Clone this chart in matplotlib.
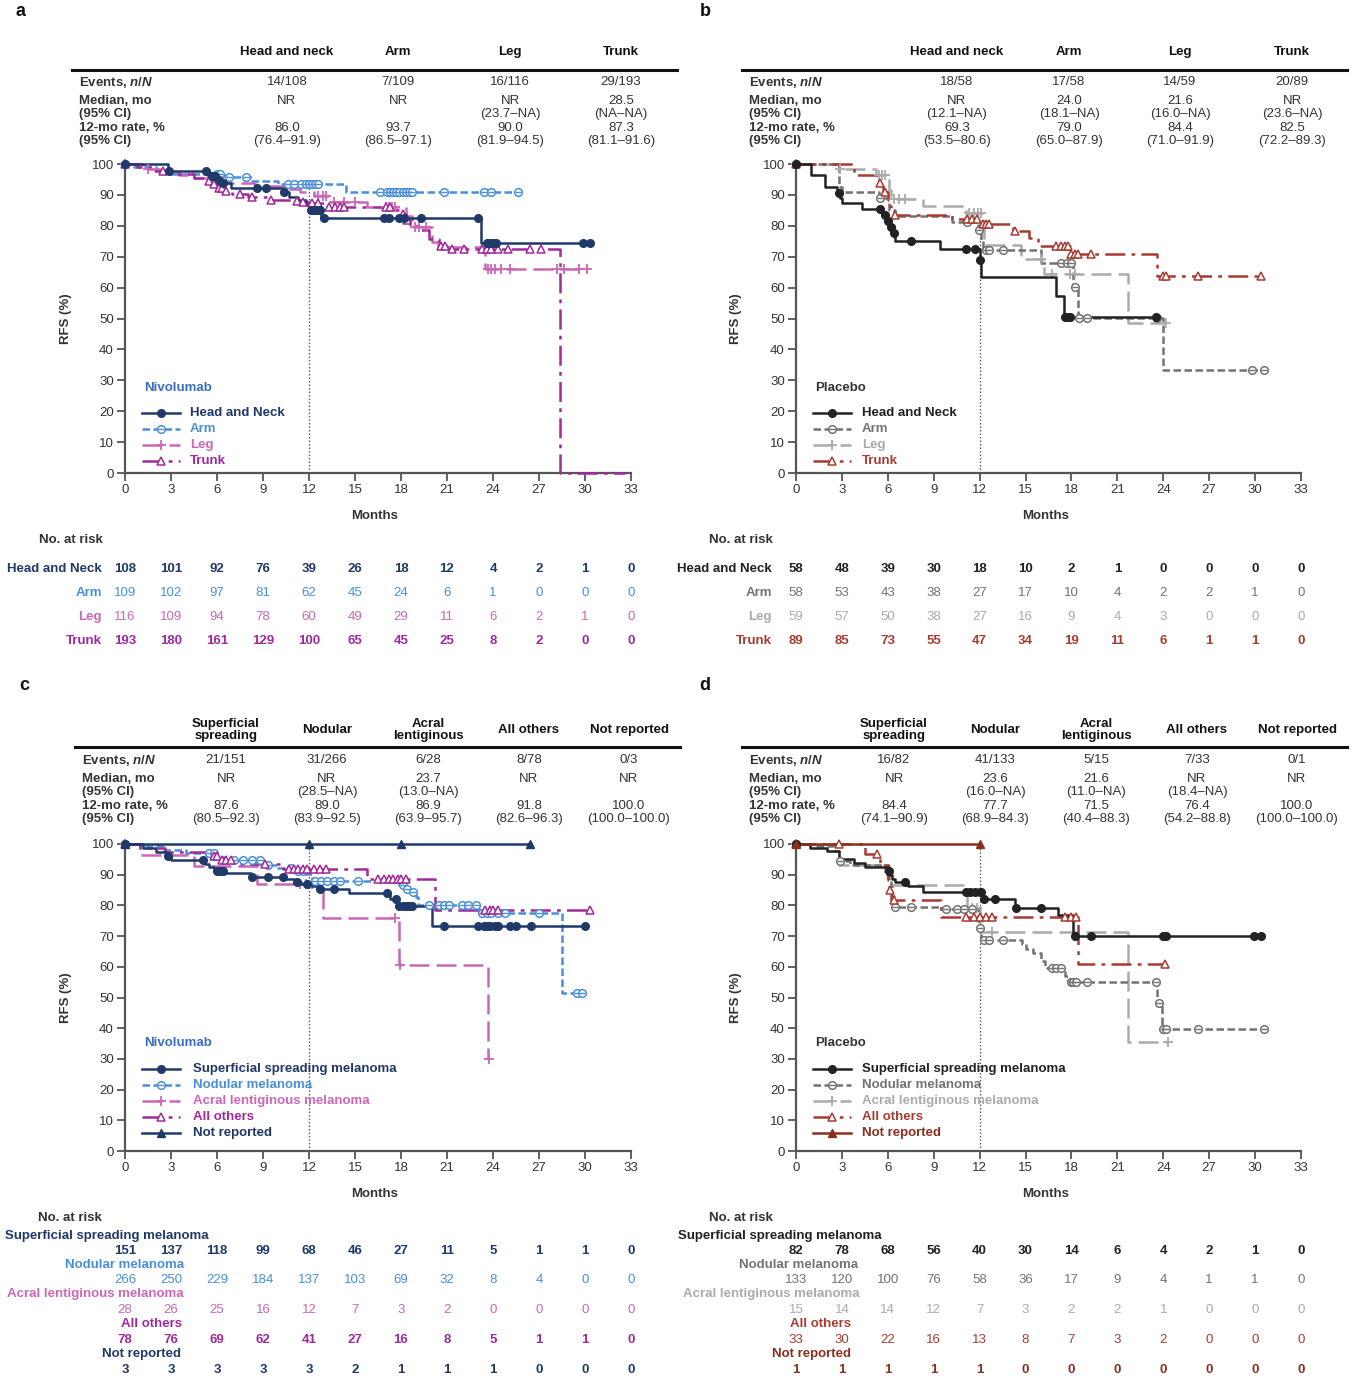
import matplotlib
matplotlib.use('Agg')
import matplotlib.pyplot as plt
from matplotlib.transforms import blended_transform_factory
import numpy as np

plt.rcParams['font.family'] = ['Liberation Sans', 'DejaVu Sans']
plt.rcParams['mathtext.fontset'] = 'custom'
plt.rcParams['mathtext.it'] = 'Liberation Sans:italic:bold'
plt.rcParams['mathtext.rm'] = 'Liberation Sans:bold'

# ---- colours
NAVY = '#1F3A68'
LBLUE = '#4A8FD8'
PINK = '#CC66B8'
PURPLE = '#A02A9A'
BLACK = '#222222'
GREY = '#737373'
LGREY = '#ABABAB'
RED = '#A83B32'
DRED = '#8C2F1E'
TXT = '#333333'

# ---- panel a : nivolumab by primary site (event times, RFS after event, censor times)
a_hn_t = [2.8, 5.4, 6.0, 6.3, 6.9, 10.3, 10.7, 11.3, 11.8, 12.0, 12.8, 23.2]
a_hn_s = [97.8, 96.0, 94.9, 93.7, 92.1, 91.0, 89.4, 88.2, 86.8, 85.1, 82.4, 74.3]
a_hn_c = [2.9, 5.3, 5.7, 5.9, 6.1, 6.4, 8.6, 9.2, 10.4, 12.1, 12.2, 12.3, 12.5, 12.7, 13.0,
          16.9, 17.2, 17.9, 18.2, 19.3, 23.0, 23.6, 23.8, 24.0, 24.2, 29.9, 30.3]
a_arm_t = [0.6, 2.0, 2.6, 6.5, 8.3, 10.0, 14.4]
a_arm_s = [99.1, 98.1, 96.9, 95.8, 94.6, 93.5, 91.0]
a_arm_c = [6.0, 6.2, 6.8, 7.9, 10.6, 11.0, 11.5, 11.8, 12.0, 12.2, 12.4, 12.6, 16.6, 17.1, 17.3,
           17.5, 17.7, 17.9, 18.1, 18.3, 18.5, 18.7, 20.8, 23.4, 23.9, 25.6]
a_leg_t = [1.2, 2.3, 3.5, 4.5, 5.4, 6.3, 8.5, 10.5, 11.4, 12.3, 13.3, 15.8, 18.3, 18.7, 20.0, 20.4, 23.5]
a_leg_s = [98.3, 97.4, 96.5, 95.6, 94.7, 93.8, 92.9, 91.9, 90.8, 89.6, 87.8, 86.2, 83.2, 79.5, 74.8, 73.2, 66.0]
a_leg_c = [1.5, 12.6, 12.9, 13.1, 13.6, 14.3, 15.0, 17.0, 17.2, 17.4, 17.6, 18.9, 19.2, 19.6,
           23.7, 23.9, 24.1, 24.5, 25.1, 28.2, 28.6, 29.6, 30.1]
a_trunk_t = [0.8, 1.6, 3.0, 4.5, 5.3, 5.7, 6.0, 6.4, 7.0, 8.0, 9.4, 10.8, 11.5, 12.0, 13.0,
             17.5, 18.0, 18.3, 18.6, 19.2, 19.8, 20.5, 21.0, 28.4]
a_trunk_s = [98.9, 97.8, 96.7, 95.6, 94.5, 93.4, 92.3, 91.2, 90.4, 89.4, 88.5, 88.0, 87.6, 87.3, 86.0,
             85.2, 83.8, 81.9, 80.0, 78.5, 75.8, 73.5, 72.5, 0.0]
a_trunk_c = [2.5, 5.5, 5.8, 6.1, 6.3, 6.6, 7.5, 8.3, 9.5, 11.2, 11.6, 12.2, 12.6, 13.3, 13.7, 14.0,
             14.3, 17.0, 17.3, 18.1, 18.4, 20.6, 20.9, 21.3, 22.1, 23.3, 23.6, 23.9, 24.3, 25.0, 26.4, 27.1]
a_trunk_end = 32.6

# ---- panel b : placebo by primary site
b_hn_t = [1.0, 1.9, 2.7, 2.9, 3.0, 4.3, 5.6, 5.9, 6.1, 6.3, 6.5, 9.4, 12.0, 12.1, 17.0, 17.5]
b_hn_s = [96.6, 92.5, 90.7, 88.9, 87.3, 85.3, 83.5, 81.7, 79.7, 77.7, 75.0, 72.5, 69.0, 63.3, 57.2, 50.6]
b_hn_c = [2.8, 5.5, 5.8, 6.0, 6.2, 6.4, 7.5, 11.1, 11.7, 12.05, 17.6, 17.8, 17.9, 23.5]
b_arm_t = [2.8, 3.0, 5.4, 6.1, 6.5, 10.2, 11.9, 12.1, 12.2, 16.0, 18.1, 18.4, 24.0]
b_arm_s = [92.4, 91.1, 88.9, 85.0, 83.3, 81.3, 78.6, 75.4, 72.1, 67.8, 60.3, 50.1, 33.4]
b_arm_c = [5.5, 11.2, 11.95, 12.4, 12.6, 13.5, 17.3, 17.7, 18.0, 18.2, 18.5, 19.0, 23.6, 29.8, 30.6]
b_leg_t = [2.8, 5.2, 6.1, 6.2, 8.3, 11.1, 12.2, 12.3, 14.7, 16.2, 21.7]
b_leg_s = [98.3, 96.6, 91.6, 88.6, 86.4, 84.0, 79.0, 73.8, 69.2, 64.4, 48.4]
b_leg_c = [2.9, 5.4, 5.6, 5.8, 6.4, 6.7, 7.1, 11.3, 11.6, 11.9, 12.1, 16.0, 16.7, 17.9, 18.2, 24.2]
b_trunk_t = [3.8, 5.4, 5.7, 6.0, 6.1, 6.2, 6.4, 10.2, 12.1, 14.2, 15.2, 15.8, 17.9, 23.6]
b_trunk_s = [96.4, 93.7, 91.0, 88.5, 86.5, 84.8, 83.5, 82.2, 80.6, 78.2, 75.9, 73.6, 70.8, 63.7]
b_trunk_c = [5.5, 5.8, 6.5, 11.2, 11.5, 11.8, 12.2, 12.4, 12.6, 14.3, 17.0, 17.3, 17.6, 17.8,
             18.0, 18.2, 18.4, 19.3, 24.0, 24.2, 26.3, 30.4]

# ---- panel c : nivolumab by subtype
c_ssm_t = [1.2, 2.0, 2.7, 3.0, 5.2, 5.5, 5.8, 6.5, 8.2, 10.5, 11.0, 11.5, 12.2, 12.6, 14.6, 17.3, 17.8, 20.0]
c_ssm_s = [98.7, 97.4, 96.0, 94.9, 93.6, 92.5, 91.3, 90.5, 89.3, 88.6, 87.7, 87.0, 86.2, 85.4, 84.0, 82.2, 79.7, 73.4]
c_ssm_c = [2.8, 5.1, 6.0, 6.2, 6.4, 8.3, 9.3, 10.3, 11.2, 11.9, 12.7, 13.6, 17.1, 17.7, 17.9, 18.1,
           18.3, 18.5, 18.7, 20.8, 23.0, 23.4, 23.6, 23.8, 24.1, 24.3, 25.1, 25.5, 26.5, 30.0]
c_nod_t = [1.2, 2.5, 4.0, 6.0, 6.5, 9.0, 10.0, 11.0, 11.8, 12.2, 17.9, 18.3, 18.6, 19.0, 19.1, 23.1, 28.5]
c_nod_s = [99.2, 98.1, 97.2, 95.9, 94.7, 93.2, 92.2, 91.2, 90.2, 88.0, 86.6, 85.5, 84.5, 82.6, 80.1, 77.6, 51.6]
c_nod_c = [5.5, 5.8, 7.1, 7.7, 8.3, 8.8, 9.3, 10.8, 11.3, 11.6, 12.4, 12.8, 13.2, 13.6, 14.0, 15.2,
           18.1, 18.4, 18.8, 19.8, 20.5, 20.8, 21.1, 22.0, 22.4, 22.9, 23.3, 23.6, 23.9, 24.3, 24.8,
           27.0, 29.5, 29.8]
c_acr_t = [1.0, 4.5, 8.6, 12.9, 17.9, 23.7]
c_acr_s = [96.4, 92.9, 86.9, 75.8, 60.5, 30.1]
c_acr_c = [11.4, 11.8, 12.2, 12.6, 17.6, 17.95, 23.75]
c_oth_t = [1.0, 2.6, 5.6, 6.2, 7.5, 10.3, 15.8, 20.2]
c_oth_s = [98.7, 97.4, 96.1, 94.8, 93.5, 91.8, 88.6, 78.5]
c_oth_c = [5.8, 6.0, 6.3, 6.6, 6.9, 9.1, 10.7, 11.0, 11.3, 11.6, 11.9, 12.3, 12.7, 13.1, 16.5, 16.9,
           17.2, 17.5, 17.8, 18.0, 18.3, 23.5, 23.8, 24.0, 24.3, 30.3]
c_nr_t = []
c_nr_s = []
c_nr_c = [12.0, 18.0, 26.4]

# ---- panel d : placebo by subtype
d_ssm_t = [0.9, 2.0, 2.8, 3.8, 4.5, 6.0, 6.1, 6.3, 6.5, 7.3, 8.3, 12.2, 14.3, 17.1, 18.1]
d_ssm_s = [98.7, 97.6, 95.0, 93.7, 92.4, 91.2, 89.9, 88.7, 87.5, 86.2, 84.5, 82.1, 79.3, 76.8, 70.1]
d_ssm_c = [6.05, 7.1, 11.1, 11.4, 11.7, 12.0, 12.1, 12.3, 13.0, 14.35, 16.0, 18.2, 19.3, 24.0, 24.2, 29.9, 30.4]
d_nod_t = [1.2, 2.5, 2.8, 3.5, 5.8, 6.0, 6.2, 6.3, 6.4, 9.4, 11.9, 12.0, 12.1, 14.8, 15.0, 15.5,
           16.0, 16.3, 17.6, 17.8, 17.9, 23.6, 23.9]
d_nod_s = [99.2, 97.6, 94.6, 93.0, 90.0, 88.4, 85.9, 83.2, 79.6, 78.8, 75.0, 72.8, 68.7, 67.4, 65.8, 64.5,
           62.0, 59.5, 57.1, 55.4, 54.9, 48.2, 39.9]
d_nod_c = [2.85, 6.5, 7.5, 9.8, 10.5, 11.0, 11.5, 12.05, 12.3, 12.6, 13.5, 16.7, 17.0, 17.3, 17.95,
           18.1, 18.3, 19.0, 23.5, 23.7, 24.0, 24.2, 26.3, 30.6]
d_acr_t = [2.8, 6.1, 11.2, 12.0, 21.7]
d_acr_s = [93.3, 86.6, 79.3, 71.4, 35.5]
d_acr_c = [11.5, 11.8, 12.8, 24.3]
d_oth_t = [4.5, 5.5, 6.0, 6.1, 6.2, 9.5, 18.4]
d_oth_s = [96.7, 93.2, 88.6, 85.0, 81.7, 76.1, 60.9]
d_oth_c = [2.8, 5.3, 6.15, 6.4, 11.1, 11.6, 12.0, 12.4, 12.8, 17.6, 18.0, 18.3, 24.1]
d_nr_t = []
d_nr_s = []
d_nr_c = [12.0]

# ---- summary tables
site_cols = ['Head and neck', 'Arm', 'Leg', 'Trunk']
a_events = ['14/108', '7/109', '16/116', '29/193']
a_median = ['NR', 'NR', 'NR', '28.5']
a_median_ci = ['', '', '(23.7–NA)', '(NA–NA)']
a_rate = ['86.0', '93.7', '90.0', '87.3']
a_rate_ci = ['(76.4–91.9)', '(86.5–97.1)', '(81.9–94.5)', '(81.1–91.6)']
b_events = ['18/58', '17/58', '14/59', '20/89']
b_median = ['NR', '24.0', '21.6', 'NR']
b_median_ci = ['(12.1–NA)', '(18.1–NA)', '(16.0–NA)', '(23.6–NA)']
b_rate = ['69.3', '79.0', '84.4', '82.5']
b_rate_ci = ['(53.5–80.6)', '(65.0–87.9)', '(71.0–91.9)', '(72.2–89.3)']
sub_cols = ['Superficial\nspreading', 'Nodular', 'Acral\nlentiginous', 'All others', 'Not reported']
c_events = ['21/151', '31/266', '6/28', '8/78', '0/3']
c_median = ['NR', 'NR', '23.7', 'NR', 'NR']
c_median_ci = ['', '(28.5–NA)', '(13.0–NA)', '', '']
c_rate = ['87.6', '89.0', '86.9', '91.8', '100.0']
c_rate_ci = ['(80.5–92.3)', '(83.9–92.5)', '(63.9–95.7)', '(82.6–96.3)', '(100.0–100.0)']
d_events = ['16/82', '41/133', '5/15', '7/33', '0/1']
d_median = ['NR', '23.6', '21.6', 'NR', 'NR']
d_median_ci = ['', '(16.0–NA)', '(11.0–NA)', '(18.4–NA)', '']
d_rate = ['84.4', '77.7', '71.5', '76.4', '100.0']
d_rate_ci = ['(74.1–90.9)', '(68.9–84.3)', '(40.4–88.3)', '(54.2–88.8)', '(100.0–100.0)']

# ---- numbers at risk
risk_months = [0, 3, 6, 9, 12, 15, 18, 21, 24, 27, 30, 33]
a_risk_hn = [108, 101, 92, 76, 39, 26, 18, 12, 4, 2, 1, 0]
a_risk_arm = [109, 102, 97, 81, 62, 45, 24, 6, 1, 0, 0, 0]
a_risk_leg = [116, 109, 94, 78, 60, 49, 29, 11, 6, 2, 1, 0]
a_risk_trunk = [193, 180, 161, 129, 100, 65, 45, 25, 8, 2, 0, 0]
b_risk_hn = [58, 48, 39, 30, 18, 10, 2, 1, 0, 0, 0, 0]
b_risk_arm = [58, 53, 43, 38, 27, 17, 10, 4, 2, 2, 1, 0]
b_risk_leg = [59, 57, 50, 38, 27, 16, 9, 4, 3, 0, 0, 0]
b_risk_trunk = [89, 85, 73, 55, 47, 34, 19, 11, 6, 1, 1, 0]
c_risk_ssm = [151, 137, 118, 99, 68, 46, 27, 11, 5, 1, 1, 0]
c_risk_nod = [266, 250, 229, 184, 137, 103, 69, 32, 8, 4, 0, 0]
c_risk_acr = [28, 26, 25, 16, 12, 7, 3, 2, 0, 0, 0, 0]
c_risk_oth = [78, 76, 69, 62, 41, 27, 16, 8, 5, 1, 1, 0]
c_risk_nr = [3, 3, 3, 3, 3, 2, 1, 1, 1, 0, 0, 0]
d_risk_ssm = [82, 78, 68, 56, 40, 30, 14, 6, 4, 2, 1, 0]
d_risk_nod = [133, 120, 100, 76, 58, 36, 17, 9, 4, 1, 1, 0]
d_risk_acr = [15, 14, 14, 12, 7, 3, 2, 2, 1, 0, 0, 0]
d_risk_oth = [33, 30, 22, 16, 13, 8, 7, 3, 2, 0, 0, 0]
d_risk_nr = [1, 1, 1, 1, 1, 0, 0, 0, 0, 0, 0, 0]

# ---- figure (pixel based layout)
W, H = 1365, 1382
fig = plt.figure(figsize=(W / 100, H / 100), dpi=100)


def fx(px):
    return px / W


def fy(py):
    return 1 - py / H


def ftext(x, y, s, **kw):
    kw.setdefault('va', 'center')
    kw.setdefault('color', TXT)
    fig.text(fx(x), fy(y), s, **kw)


STY = {
    'hn': dict(ls='-', marker='o', fill=True),
    'arm': dict(ls=(0, (3.0, 1.4)), marker='o', fill=False),
    'leg': dict(ls=(0, (8, 2.8)), marker='+', fill=True),
    'trunk': dict(ls=(0, (8, 2.5, 1.5, 2.5)), marker='^', fill=False),
    'nr': dict(ls='-', marker='^', fill=True),
}


def surv_at(t, s, times):
    out = []
    for c in times:
        i = np.searchsorted(t, c, side='right')
        out.append(100.0 if i == 0 else s[i - 1])
    return out


def draw_marks(ax, x, y, color, kind, z, **kw):
    st = STY[kind]
    if kind == 'leg':
        ax.plot(x, y, ls='none', marker='+', ms=7, mew=1.3, color=color, zorder=z + 0.5, clip_on=False, **kw)
    elif st['fill']:
        ax.plot(x, y, ls='none', marker=st['marker'], ms=5.5, color=color, mec=color, zorder=z + 0.5,
                clip_on=False, **kw)
    else:
        ax.plot(x, y, ls='none', marker=st['marker'], ms=5.5, mfc='white', mec=color, mew=1.1,
                zorder=z + 0.5, clip_on=False, **kw)
        if kind == 'arm':
            ax.plot(x, y, ls='none', marker='_', ms=4.5, mew=1.0, color=color, zorder=z + 0.6,
                    clip_on=False, **kw)


def km(ax, t, s, cens, color, kind, z, end=None):
    if end is None:
        end = max(list(t) + list(cens))
    xs = [0] + list(t) + [end]
    ys = [100] + list(s) + [s[-1] if len(s) else 100]
    ax.step(xs, ys, where='post', color=color, lw=1.8, ls=STY[kind]['ls'], zorder=z, clip_on=False)
    draw_marks(ax, [0] + list(cens), [100] + surv_at(t, s, cens), color, kind, z)


def make_ax(left, right, top, bottom):
    ax = fig.add_axes([fx(left), fy(bottom), fx(right - left), (bottom - top) / H])
    ax.set_xlim(0, 33)
    ax.set_ylim(0, 100)
    ax.set_xticks(risk_months)
    ax.set_yticks(range(0, 101, 10))
    for sp in ['top', 'right']:
        ax.spines[sp].set_visible(False)
    for sp in ['left', 'bottom']:
        ax.spines[sp].set_color('#555555')
        ax.spines[sp].set_linewidth(1.6)
    ax.tick_params(length=6, width=1.3, color='#555555', labelsize=9.5, labelcolor=TXT, pad=2)
    ax.patch.set_alpha(0)
    return ax


def legend(ax, title, tcolor, items, ytitle, ys, xt):
    tr = ax.transAxes
    ax.text(0.038, ytitle, title, transform=tr, fontsize=9.5, fontweight='bold', color=tcolor, va='center')
    for (lab, col, kind), y in zip(items, ys):
        ax.plot([0.034, 0.108], [y, y], transform=tr, color=col, lw=1.8, ls=STY[kind]['ls'], clip_on=False)
        draw_marks(ax, [0.071], [y], col, kind, 5, transform=tr)
        ax.text(xt, y, lab, transform=tr, fontsize=9.5, fontweight='bold', color=col, va='center')


def summary_table(cols, colx, rows, x0, x1, yhead, yline, ylab):
    for c, x in zip(cols, colx):
        ftext(x, yhead, c, ha='center', fontsize=9.5, fontweight='bold', color='#111111', linespacing=0.95)
    fig.add_artist(plt.Line2D([fx(x0), fx(x1)], [fy(yline), fy(yline)], color='#111111', lw=2.2))
    labs = ['Events, $\\mathit{n/N}$', 'Median, mo', '(95% CI)', '12-mo rate, %', '(95% CI)']
    for lab, y in zip(labs, ylab):
        ftext(x0 + 7, y, lab, ha='left', fontsize=9.5, fontweight='bold')
    for vals, y in zip(rows, ylab):
        for v, x in zip(vals, colx):
            ftext(x, y, v, ha='center', fontsize=9.5, color=TXT)


def risk_rows(ax, rows, ynum, label_pos):
    tr = blended_transform_factory(ax.transData, fig.transFigure)
    for (lab, col, vals, bold), yn, (lx, ly, ha) in zip(rows, ynum, label_pos):
        ftext(lx, ly, lab, ha=ha, fontsize=9.5, fontweight='bold', color=col)
        for m, v in zip(risk_months, vals):
            ax.text(m, fy(yn), str(v), transform=tr, ha='center', va='center', fontsize=9.5,
                    fontweight='bold' if bold else 'normal', color=col)


def decorate(ax, left, right, top, bottom, ymonths, xrfs):
    ftext(xrfs, (top + bottom) / 2, 'RFS (%)', ha='center', rotation=90, fontsize=9.5, fontweight='bold')
    ftext((left + right) / 2 - 3, ymonths, 'Months', ha='center', fontsize=9.5, fontweight='bold')


def landmark(ax, series):
    top = max(surv_at(t, s, [12.0])[0] for t, s in series)
    ax.plot([12, 12], [0, top], ls=(0, (1.2, 1.6)), color='#555555', lw=0.9, zorder=1)


# ================= panel a
PA = (125, 631, 164, 473)
ax = make_ax(*PA)
km(ax, a_arm_t, a_arm_s, a_arm_c, LBLUE, 'arm', 3)
km(ax, a_leg_t, a_leg_s, a_leg_c, PINK, 'leg', 3.2)
km(ax, a_trunk_t, a_trunk_s, a_trunk_c, PURPLE, 'trunk', 3.4, end=a_trunk_end)
km(ax, a_hn_t, a_hn_s, a_hn_c, NAVY, 'hn', 3.6)
landmark(ax, [(a_hn_t, a_hn_s), (a_arm_t, a_arm_s), (a_leg_t, a_leg_s), (a_trunk_t, a_trunk_s)])
legend(ax, 'Nivolumab', '#3A6EC0',
       [('Head and Neck', NAVY, 'hn'), ('Arm', LBLUE, 'arm'), ('Leg', PINK, 'leg'), ('Trunk', PURPLE, 'trunk')],
       0.275, [0.194, 0.142, 0.091, 0.039], 0.128)
decorate(ax, *PA, 516, 66)
summary_table(site_cols, [287, 398, 510, 621], [a_events, a_median, a_median_ci, a_rate, a_rate_ci],
              72, 677, 52, 70, [82, 101, 114, 128, 141])
ftext(39, 540, 'No. at risk', ha='left', fontsize=9.5, fontweight='bold')
risk_rows(ax, [('Head and Neck', NAVY, a_risk_hn, True), ('Arm', LBLUE, a_risk_arm, False),
               ('Leg', PINK, a_risk_leg, False), ('Trunk', PURPLE, a_risk_trunk, True)],
          [569, 593, 617, 641], [(102, 569, 'right'), (102, 593, 'right'), (102, 617, 'right'), (102, 641, 'right')])
ftext(20, 12, 'a', ha='center', fontsize=13, fontweight='bold', color='#111111')

# ================= panel b
PB = (796, 1301, 164, 473)
ax = make_ax(*PB)
km(ax, b_leg_t, b_leg_s, b_leg_c, LGREY, 'leg', 3)
km(ax, b_arm_t, b_arm_s, b_arm_c, GREY, 'arm', 3.2)
km(ax, b_trunk_t, b_trunk_s, b_trunk_c, RED, 'trunk', 3.4)
km(ax, b_hn_t, b_hn_s, b_hn_c, BLACK, 'hn', 3.6)
landmark(ax, [(b_hn_t, b_hn_s), (b_arm_t, b_arm_s), (b_leg_t, b_leg_s), (b_trunk_t, b_trunk_s)])
legend(ax, 'Placebo', TXT,
       [('Head and Neck', BLACK, 'hn'), ('Arm', GREY, 'arm'), ('Leg', LGREY, 'leg'), ('Trunk', RED, 'trunk')],
       0.275, [0.194, 0.142, 0.091, 0.039], 0.131)
decorate(ax, *PB, 516, 736)
summary_table(site_cols, [957, 1069, 1180, 1292], [b_events, b_median, b_median_ci, b_rate, b_rate_ci],
              742, 1347, 52, 70, [82, 101, 114, 128, 141])
ftext(709, 540, 'No. at risk', ha='left', fontsize=9.5, fontweight='bold')
risk_rows(ax, [('Head and Neck', BLACK, b_risk_hn, True), ('Arm', GREY, b_risk_arm, False),
               ('Leg', LGREY, b_risk_leg, False), ('Trunk', RED, b_risk_trunk, True)],
          [569, 593, 617, 641], [(772, 569, 'right'), (772, 593, 'right'), (772, 617, 'right'), (772, 641, 'right')])
ftext(705, 12, 'b', ha='center', fontsize=13, fontweight='bold', color='#111111')

# ================= panel c
PC = (125, 631, 844, 1151)
ax = make_ax(*PC)
km(ax, c_acr_t, c_acr_s, c_acr_c, PINK, 'leg', 3)
km(ax, c_nod_t, c_nod_s, c_nod_c, LBLUE, 'arm', 3.2)
km(ax, c_oth_t, c_oth_s, c_oth_c, PURPLE, 'trunk', 3.4)
km(ax, c_ssm_t, c_ssm_s, c_ssm_c, NAVY, 'hn', 3.6)
km(ax, c_nr_t, c_nr_s, c_nr_c, NAVY, 'nr', 3.8)
landmark(ax, [(c_ssm_t, c_ssm_s), (c_nod_t, c_nod_s), (c_acr_t, c_acr_s), (c_oth_t, c_oth_s), (c_nr_t, c_nr_s)])
legend(ax, 'Nivolumab', '#3A6EC0',
       [('Superficial spreading melanoma', NAVY, 'hn'), ('Nodular melanoma', LBLUE, 'arm'),
        ('Acral lentiginous melanoma', PINK, 'leg'), ('All others', PURPLE, 'trunk'), ('Not reported', NAVY, 'nr')],
       0.352, [0.267, 0.215, 0.163, 0.111, 0.059], 0.134)
decorate(ax, *PC, 1194, 66)
summary_table(sub_cols, [226, 327, 428, 529, 629], [c_events, c_median, c_median_ci, c_rate, c_rate_ci],
              75, 680, 730, 747, [760, 779, 792, 806, 819])
ftext(38, 1218, 'No. at risk', ha='left', fontsize=9.5, fontweight='bold')
risk_rows(ax, [('Superficial spreading melanoma', NAVY, c_risk_ssm, True),
               ('Nodular melanoma', LBLUE, c_risk_nod, False),
               ('Acral lentiginous melanoma', PINK, c_risk_acr, False),
               ('All others', PURPLE, c_risk_oth, True), ('Not reported', NAVY, c_risk_nr, True)],
          [1251, 1280, 1310, 1340, 1370],
          [(5, 1236, 'left'), (184, 1265, 'right'), (184, 1294, 'right'), (182, 1324, 'right'), (181, 1354, 'right')])
ftext(24, 685, 'c', ha='center', fontsize=13, fontweight='bold', color='#111111')

# ================= panel d
PD = (796, 1301, 844, 1151)
ax = make_ax(*PD)
km(ax, d_acr_t, d_acr_s, d_acr_c, LGREY, 'leg', 3)
km(ax, d_nod_t, d_nod_s, d_nod_c, GREY, 'arm', 3.2)
km(ax, d_oth_t, d_oth_s, d_oth_c, RED, 'trunk', 3.4)
km(ax, d_ssm_t, d_ssm_s, d_ssm_c, BLACK, 'hn', 3.6)
km(ax, d_nr_t, d_nr_s, d_nr_c, DRED, 'nr', 3.8)
landmark(ax, [(d_ssm_t, d_ssm_s), (d_nod_t, d_nod_s), (d_acr_t, d_acr_s), (d_oth_t, d_oth_s), (d_nr_t, d_nr_s)])
legend(ax, 'Placebo', TXT,
       [('Superficial spreading melanoma', BLACK, 'hn'), ('Nodular melanoma', GREY, 'arm'),
        ('Acral lentiginous melanoma', LGREY, 'leg'), ('All others', RED, 'trunk'), ('Not reported', DRED, 'nr')],
       0.352, [0.267, 0.215, 0.163, 0.111, 0.059], 0.131)
decorate(ax, *PD, 1194, 736)
summary_table(sub_cols, [894, 995, 1096, 1197, 1297], [d_events, d_median, d_median_ci, d_rate, d_rate_ci],
              742, 1347, 730, 747, [760, 779, 792, 806, 819])
ftext(709, 1218, 'No. at risk', ha='left', fontsize=9.5, fontweight='bold')
risk_rows(ax, [('Superficial spreading melanoma', BLACK, d_risk_ssm, True),
               ('Nodular melanoma', GREY, d_risk_nod, False),
               ('Acral lentiginous melanoma', LGREY, d_risk_acr, False),
               ('All others', RED, d_risk_oth, False), ('Not reported', DRED, d_risk_nr, True)],
          [1251, 1280, 1310, 1340, 1370],
          [(678, 1236, 'left'), (858, 1265, 'right'), (860, 1294, 'right'), (851, 1324, 'right'), (851, 1354, 'right')])
ftext(705, 685, 'd', ha='center', fontsize=13, fontweight='bold', color='#111111')

fig.savefig('out.png', dpi=100)
